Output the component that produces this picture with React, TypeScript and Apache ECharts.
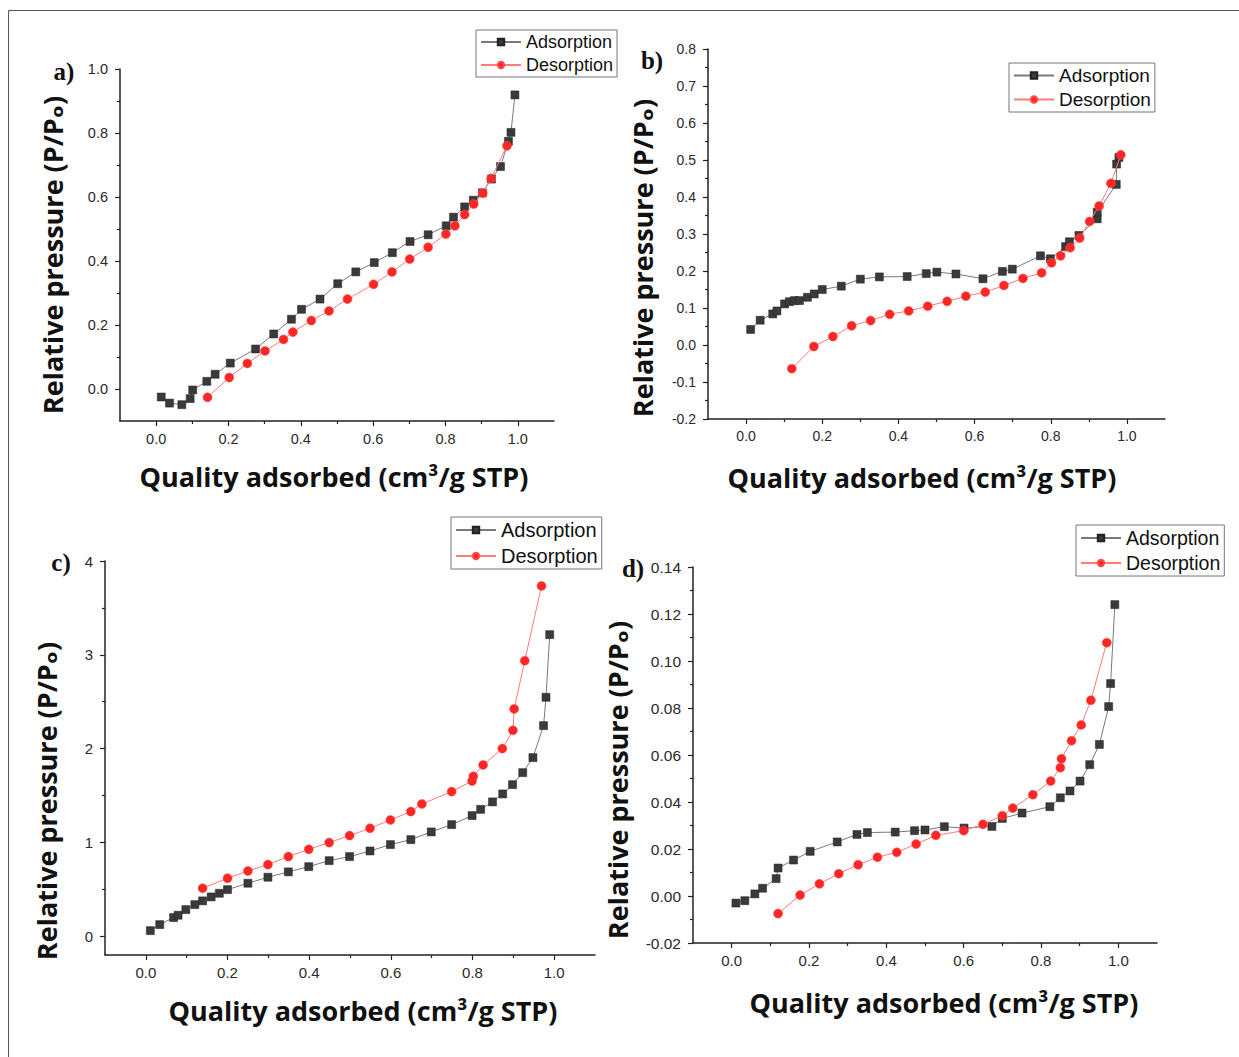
import React, { useEffect, useRef } from "react";
import * as echarts from "echarts";

// ---------- data ----------
const xTickValues = [0, 0.2, 0.4, 0.6, 0.8, 1.0];
const xMinorValues = [0.1, 0.3, 0.5, 0.7, 0.9];

const aYTicks = [0, 0.2, 0.4, 0.6, 0.8, 1.0];
const aYMinor = [0.1, 0.3, 0.5, 0.7, 0.9];
const bYTicks = [-0.2, -0.1, 0, 0.1, 0.2, 0.3, 0.4, 0.5, 0.6, 0.7, 0.8];
const bYMinor = [-0.15, -0.05, 0.05, 0.15, 0.25, 0.35, 0.45, 0.55, 0.65, 0.75];
const cYTicks = [0, 1, 2, 3, 4];
const cYMinor = [0.5, 1.5, 2.5, 3.5];
const dYTicks = [-0.02, 0, 0.02, 0.04, 0.06, 0.08, 0.1, 0.12, 0.14];
const dYMinor = [-0.01, 0.01, 0.03, 0.05, 0.07, 0.09, 0.11, 0.13];

const legendNames = ["Adsorption", "Desorption"];

const aAdsorption = [
  [0.014, -0.025], [0.037, -0.044], [0.071, -0.049], [0.094, -0.03], [0.101, -0.003],
  [0.14, 0.024], [0.163, 0.046], [0.205, 0.081], [0.275, 0.125], [0.325, 0.172],
  [0.374, 0.218], [0.402, 0.249], [0.453, 0.281], [0.502, 0.329], [0.552, 0.366],
  [0.603, 0.395], [0.653, 0.426], [0.702, 0.461], [0.752, 0.482], [0.802, 0.51],
  [0.822, 0.537], [0.853, 0.569], [0.877, 0.59], [0.902, 0.613], [0.927, 0.656],
  [0.952, 0.695], [0.974, 0.774], [0.981, 0.802], [0.992, 0.919],
];
const aDesorption = [
  [0.142, -0.026], [0.202, 0.036], [0.252, 0.08], [0.301, 0.119], [0.352, 0.155],
  [0.378, 0.178], [0.429, 0.214], [0.478, 0.244], [0.529, 0.281], [0.601, 0.327],
  [0.652, 0.366], [0.701, 0.406], [0.752, 0.443], [0.801, 0.484], [0.826, 0.51],
  [0.853, 0.545], [0.878, 0.578], [0.903, 0.612], [0.926, 0.658], [0.97, 0.76],
];

const bAdsorption = [
  [0.012, 0.042], [0.037, 0.067], [0.07, 0.084], [0.081, 0.092], [0.101, 0.111],
  [0.114, 0.117], [0.127, 0.12], [0.14, 0.12], [0.161, 0.129], [0.179, 0.138],
  [0.2, 0.15], [0.25, 0.159], [0.3, 0.178], [0.35, 0.184], [0.423, 0.185],
  [0.473, 0.193], [0.501, 0.197], [0.551, 0.192], [0.622, 0.179], [0.673, 0.199],
  [0.699, 0.205], [0.773, 0.241], [0.799, 0.233], [0.839, 0.266], [0.849, 0.279],
  [0.874, 0.296], [0.922, 0.341], [0.922, 0.359], [0.972, 0.434], [0.973, 0.489],
  [0.979, 0.507],
];
const bDesorption = [
  [0.12, -0.064], [0.178, -0.004], [0.228, 0.023], [0.277, 0.052], [0.327, 0.066],
  [0.377, 0.083], [0.427, 0.092], [0.477, 0.105], [0.528, 0.118], [0.577, 0.132],
  [0.628, 0.143], [0.677, 0.161], [0.727, 0.18], [0.776, 0.195], [0.802, 0.222],
  [0.826, 0.241], [0.851, 0.263], [0.876, 0.289], [0.902, 0.334], [0.927, 0.376],
  [0.958, 0.437], [0.984, 0.514],
];

const cAdsorption = [
  [0.011, 0.06], [0.034, 0.124], [0.068, 0.199], [0.079, 0.224], [0.098, 0.284],
  [0.12, 0.337], [0.139, 0.377], [0.16, 0.419], [0.18, 0.458], [0.2, 0.497],
  [0.25, 0.565], [0.299, 0.629], [0.349, 0.686], [0.399, 0.742], [0.449, 0.806],
  [0.499, 0.849], [0.549, 0.909], [0.599, 0.977], [0.649, 1.03], [0.699, 1.112],
  [0.749, 1.19], [0.799, 1.286], [0.82, 1.353], [0.849, 1.432], [0.874, 1.517],
  [0.898, 1.616], [0.923, 1.744], [0.948, 1.904], [0.974, 2.245], [0.98, 2.547],
  [0.989, 3.215],
];
const cDesorption = [
  [0.139, 0.512], [0.2, 0.618], [0.25, 0.696], [0.299, 0.764], [0.349, 0.849],
  [0.399, 0.927], [0.449, 0.998], [0.499, 1.073], [0.549, 1.151], [0.599, 1.24],
  [0.649, 1.329], [0.676, 1.41], [0.749, 1.542], [0.799, 1.655], [0.802, 1.705],
  [0.826, 1.826], [0.873, 2.0], [0.899, 2.195], [0.902, 2.423], [0.928, 2.938],
  [0.969, 3.734],
];

const dAdsorption = [
  [0.011, -0.003], [0.034, -0.002], [0.06, 0.0009], [0.08, 0.0033], [0.115, 0.0074],
  [0.12, 0.0119], [0.16, 0.0153], [0.203, 0.019], [0.273, 0.023], [0.324, 0.0262],
  [0.351, 0.027], [0.423, 0.0272], [0.473, 0.0278], [0.5, 0.0281], [0.55, 0.0295],
  [0.601, 0.0289], [0.673, 0.0296], [0.7, 0.033], [0.751, 0.0353], [0.823, 0.038],
  [0.85, 0.0418], [0.875, 0.0447], [0.901, 0.0489], [0.926, 0.0559], [0.951, 0.0645],
  [0.975, 0.0806], [0.98, 0.0904], [0.991, 0.124],
];
const dDesorption = [
  [0.12, -0.0075], [0.177, 0.0004], [0.227, 0.0052], [0.277, 0.0095], [0.327, 0.0133],
  [0.377, 0.0165], [0.427, 0.0186], [0.477, 0.0221], [0.528, 0.0258], [0.6, 0.0278],
  [0.65, 0.0305], [0.7, 0.0342], [0.727, 0.0374], [0.779, 0.0431], [0.825, 0.0489],
  [0.85, 0.0546], [0.853, 0.0584], [0.879, 0.0661], [0.904, 0.0728], [0.929, 0.0833],
  [0.97, 0.1078],
];

// ---------- layout ----------
const panels = [
  {
    label: "a)", labelPos: [64, 71],
    grid: { left: 120, top: 69, width: 434, height: 352 },
    yMin: -0.1, yMax: 1.0, yTicks: aYTicks, yMinor: aYMinor, yFmt: (v: number) => v.toFixed(1),
    yFont: 14.5, xFont: 14.5,
    ads: aAdsorption, des: aDesorption,
    yTitle: [52, 255], xTitle: [334, 476],
    legend: { left: 476, top: 30, fontSize: 18, gap: 5 },
  },
  {
    label: "b)", labelPos: [652, 60],
    grid: { left: 708, top: 49, width: 457, height: 370 },
    yMin: -0.2, yMax: 0.8, yTicks: bYTicks, yMinor: bYMinor, yFmt: (v: number) => v.toFixed(1),
    yFont: 14, xFont: 14,
    ads: bAdsorption, des: bDesorption,
    yTitle: [642, 258], xTitle: [922, 477],
    legend: { left: 1009, top: 63, fontSize: 19, gap: 5 },
  },
  {
    label: "c)", labelPos: [61, 562],
    grid: { left: 105, top: 561, width: 490, height: 394 },
    yMin: -0.2, yMax: 4, yTicks: cYTicks, yMinor: cYMinor, yFmt: (v: number) => String(Math.round(v)),
    yFont: 15, xFont: 15,
    ads: cAdsorption, des: cDesorption,
    yTitle: [46, 801], xTitle: [363, 1010],
    legend: { left: 451, top: 517, fontSize: 20, gap: 6 },
  },
  {
    label: "d)", labelPos: [633, 568],
    grid: { left: 693, top: 567, width: 464, height: 376 },
    yMin: -0.02, yMax: 0.14, yTicks: dYTicks, yMinor: dYMinor, yFmt: (v: number) => v.toFixed(2),
    yFont: 15.5, xFont: 15,
    ads: dAdsorption, des: dDesorption,
    yTitle: [617, 780], xTitle: [944, 1002],
    legend: { left: 1076, top: 525, fontSize: 19.5, gap: 5 },
  },
];

const AXIS_COLOR = "#222";
const TICK_FONT = "'Liberation Sans', Arial, sans-serif";
const TITLE_FONT = "'Open Sans', 'DejaVu Sans', sans-serif";

export default function App() {
  const ref = useRef<HTMLDivElement>(null);

  useEffect(() => {
    if (!ref.current) return;
    const chart = echarts.init(ref.current, null, { renderer: "svg" });

    const grids: any[] = [];
    const xAxes: any[] = [];
    const yAxes: any[] = [];
    const series: any[] = [];
    const legends: any[] = [];
    const graphics: any[] = [
      {
        type: "rect",
        shape: { x: 8.5, y: 10.5, width: 1240, height: 1060 },
        style: { fill: "none", stroke: "#555", lineWidth: 1 },
        silent: true,
      },
    ];

    panels.forEach((p, i) => {
      grids.push({ ...p.grid, containLabel: false });
      const xMajorIdx = xAxes.length;
      xAxes.push({
        type: "value", gridIndex: i, position: "bottom", min: -0.1, max: 1.1,
        axisLine: { show: true, onZero: false, lineStyle: { color: AXIS_COLOR, width: 1.5 } },
        axisTick: { show: true, length: 5, customValues: xTickValues, lineStyle: { color: AXIS_COLOR, width: 1.2 } },
        axisLabel: {
          show: true, customValues: xTickValues, margin: 10,
          formatter: (v: number) => v.toFixed(1),
          fontSize: p.xFont, color: "#2a2a2a", fontFamily: TICK_FONT,
        },
        splitLine: { show: false },
      });
      xAxes.push({
        type: "value", gridIndex: i, position: "bottom", min: -0.1, max: 1.1,
        axisLine: { show: false, onZero: false },
        axisTick: { show: true, length: 3, customValues: xMinorValues, lineStyle: { color: AXIS_COLOR, width: 1.2 } },
        axisLabel: { show: false },
        splitLine: { show: false },
      });
      const yMajorIdx = yAxes.length;
      yAxes.push({
        type: "value", gridIndex: i, position: "left", min: p.yMin, max: p.yMax,
        axisLine: { show: true, onZero: false, lineStyle: { color: AXIS_COLOR, width: 1.5 } },
        axisTick: { show: true, length: 5, customValues: p.yTicks, lineStyle: { color: AXIS_COLOR, width: 1.2 } },
        axisLabel: {
          show: true, customValues: p.yTicks, margin: 12,
          formatter: p.yFmt,
          fontSize: p.yFont, color: "#2a2a2a", fontFamily: TICK_FONT,
        },
        splitLine: { show: false },
      });
      yAxes.push({
        type: "value", gridIndex: i, position: "left", min: p.yMin, max: p.yMax,
        axisLine: { show: false, onZero: false },
        axisTick: { show: true, length: 3, customValues: p.yMinor, lineStyle: { color: AXIS_COLOR, width: 1.2 } },
        axisLabel: { show: false },
        splitLine: { show: false },
      });

      series.push({
        name: legendNames[0], type: "line", xAxisIndex: xMajorIdx, yAxisIndex: yMajorIdx,
        data: p.ads, symbol: "rect", symbolSize: 8,
        itemStyle: { color: "#3a3a3a", borderColor: "#222", borderWidth: 0.5 },
        lineStyle: { color: "#7a7a7a", width: 1 },
        z: 3,
      });
      series.push({
        name: legendNames[1], type: "line", xAxisIndex: xMajorIdx, yAxisIndex: yMajorIdx,
        data: p.des, symbol: "circle", symbolSize: 9,
        itemStyle: { color: "#ff2626", borderColor: "#ff4d4d", borderWidth: 0.5 },
        lineStyle: { color: "#ff7a7a", width: 1 },
        z: 4,
      });

      legends.push({
        data: legendNames,
        left: p.legend.left, top: p.legend.top, orient: "vertical",
        borderColor: "#777", borderWidth: 1, padding: [3, 4, 3, 4], itemGap: p.legend.gap,
        itemWidth: 40, itemHeight: 8, selectedMode: false,
        textStyle: { fontFamily: TICK_FONT, fontSize: p.legend.fontSize, color: "#111" },
      });

      graphics.push({
        type: "text", x: p.labelPos[0], y: p.labelPos[1],
        style: {
          text: p.label, align: "center", verticalAlign: "middle",
          font: "bold 25px 'Liberation Serif', 'Times New Roman', serif", fill: "#111",
        },
      });
      graphics.push({
        type: "text", x: p.yTitle[0], y: p.yTitle[1], rotation: Math.PI / 2,
        style: {
          text: "Relative pressure (P/Pₒ)", align: "center", verticalAlign: "middle",
          font: `bold 27px ${TITLE_FONT}`, fill: "#111",
        },
      });
      graphics.push({
        type: "text", x: p.xTitle[0], y: p.xTitle[1],
        style: {
          text: "Quality adsorbed (cm³/g STP)", align: "center", verticalAlign: "middle",
          font: `bold 27px ${TITLE_FONT}`, fill: "#111",
        },
      });
    });

    chart.setOption({
      animation: false,
      backgroundColor: "#ffffff",
      grid: grids,
      xAxis: xAxes,
      yAxis: yAxes,
      series,
      legend: legends,
      graphic: graphics,
    });

    return () => chart.dispose();
  }, []);

  return (
    <div
      ref={ref}
      style={{ position: "fixed", left: 0, top: 0, width: 1239, height: 1057, background: "#fff" }}
    />
  );
}
